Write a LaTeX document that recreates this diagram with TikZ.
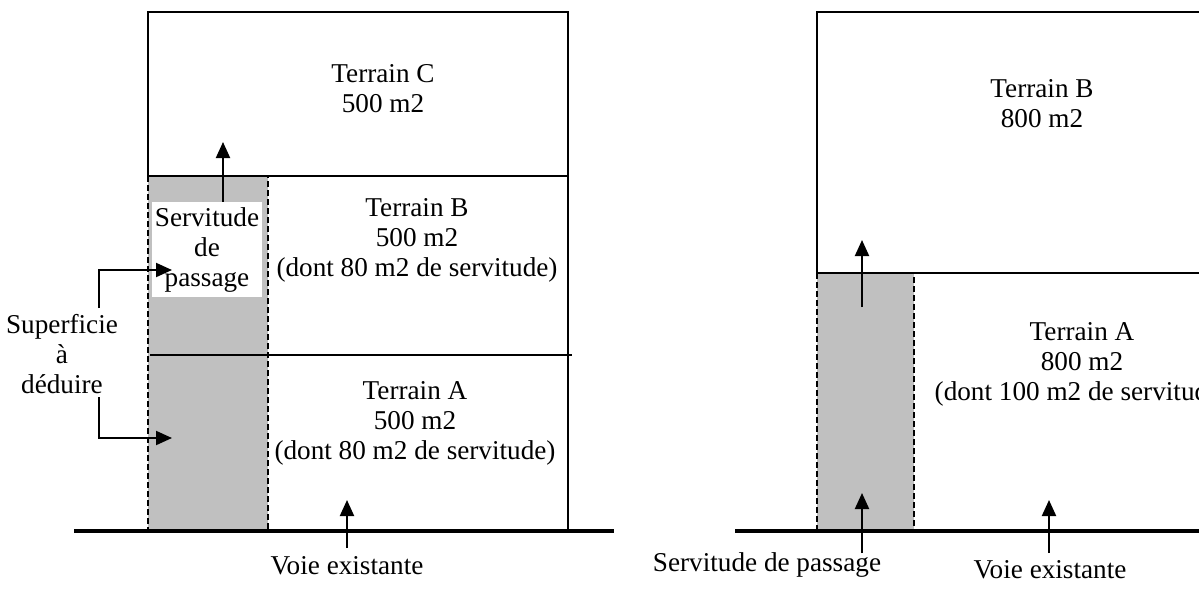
\documentclass[tikz,border=0pt]{standalone}
\usepackage{fontspec}
\setmainfont{Liberation Serif}
\usetikzlibrary{arrows.meta}
\definecolor{stripgray}{RGB}{192,192,192}
\newcommand\lblfont{\fontsize{27.2}{30}\selectfont}
\tikzset{
  lbl/.style={font=\lblfont, align=center, inner sep=0pt},
  lotline/.style={line width=2pt},
  roadline/.style={line width=3.3pt},
  strip/.style={draw=black, line width=1.7pt, dash pattern=on 6pt off 3pt},
  arr/.style={line width=2pt, -{Triangle[length=16pt,width=14pt]}},
}
\begin{document}
\begin{tikzpicture}[x=1pt,y=-1pt]
\useasboundingbox (0,0) rectangle (1199,598);
\clip (0,0) rectangle (1199,598);
% ---------- left plan ----------
\fill[stripgray] (148,176) rectangle (268,531);
\draw[lotline] (148,176) -- (148,12) -- (568,12) -- (568,531);
\draw[lotline] (148,176) -- (568,176);
\draw[lotline] (150,355) -- (572,355);
\draw[strip] (148,176) rectangle (268,531);
\draw[roadline] (74,531) -- (614,531);
\node[lbl] (tC) at (383,112) [anchor=base] {Terrain C\\500 m2};
\node[lbl] (tB) at (417,276) [anchor=base] {Terrain B\\500 m2\\(dont 80 m2 de servitude)};
\node[lbl] (tA) at (415,459) [anchor=base] {Terrain A\\500 m2\\(dont 80 m2 de servitude)};
\node[lbl, fill=white, minimum width=110pt, minimum height=95pt] (serv) at (207,249.5) {Servitude\\de\\passage};
\node[lbl] (sup) at (62,393) [anchor=base] {Superficie\\à\\déduire};
\node[lbl] (voieL) at (347,574) [anchor=base] {Voie existante};
\coordinate (servTip) at (223,142);
\coordinate (supA) at (99,308);
\coordinate (supTipA) at (172,270);
\coordinate (supB) at (99,397);
\coordinate (supTipB) at (172,438);
\coordinate (voieLs) at (347,548);
\coordinate (voieLt) at (347,500);
\draw[arr] (serv.north -| servTip) -- (servTip);
\draw[arr] (supA) |- (supTipA);
\draw[arr] (supB) |- (supTipB);
\draw[arr] (voieLs) -- (voieLt);
% ---------- right plan ----------
\fill[stripgray] (817,273) rectangle (914,531);
\draw[lotline] (817,273) -- (817,12) -- (1210,12);
\draw[lotline] (817,273) -- (1210,273);
\draw[strip] (817,273) rectangle (914,531);
\draw[roadline] (735,531) -- (1210,531);
\node[lbl] (rB) at (1042,127) [anchor=base] {Terrain B\\800 m2};
\node[lbl] (rA) at (1082,400) [anchor=base] {Terrain A\\800 m2\\(dont 100 m2 de servitude)};
\node[lbl] (servR) at (767,571) [anchor=base] {Servitude de passage};
\node[lbl] (voieR) at (1050,578) [anchor=base] {Voie existante};
\coordinate (sRs) at (862,553);
\coordinate (sRt) at (862,493);
\coordinate (sUs) at (862,307);
\coordinate (sUt) at (862,240);
\coordinate (vRs) at (1049,553);
\coordinate (vRt) at (1049,500);
\draw[arr] (sRs) -- (sRt);
\draw[arr] (sUs) -- (sUt);
\draw[arr] (vRs) -- (vRt);
\end{tikzpicture}
\end{document}
